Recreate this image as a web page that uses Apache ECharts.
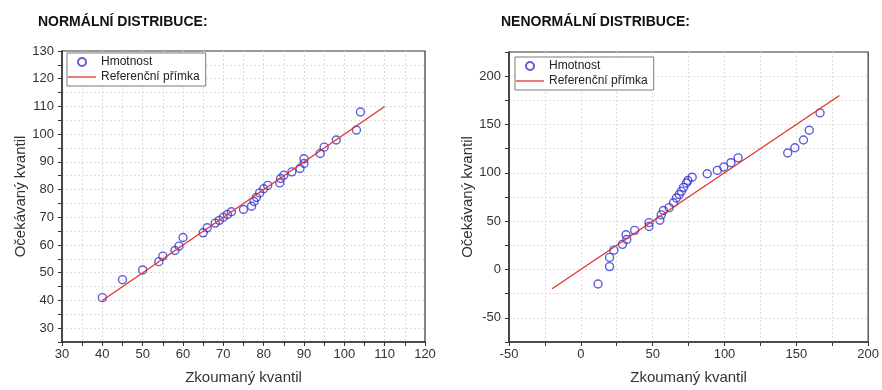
<!DOCTYPE html>
<html>
<head>
<meta charset="utf-8">
<script src="https://cdn.jsdelivr.net/npm/echarts@6/dist/echarts.min.js"></script>
<style>
  html, body { margin: 0; padding: 0; background: #fff; }
  #chart { width: 882px; height: 390px; }
</style>
</head>
<body>
<div id="chart"></div>
<script>
// normální distribuce
const normX = [40, 45, 50, 54, 55, 58, 59, 60, 65, 66, 68, 69, 70, 71, 72, 75, 77, 77.6, 78.2, 79, 80, 81, 84, 84.2, 85, 87, 89, 90, 90, 94, 95, 98, 103, 104];
const normY = [41, 47.5, 51, 54, 56, 58, 59.6, 62.7, 64.4, 66.2, 67.9, 68.9, 70, 71, 72, 72.8, 74, 75.7, 77.2, 78.8, 80.3, 81.5, 82.4, 84, 85.2, 86.4, 87.6, 89.4, 91.1, 93, 95.3, 97.9, 101.5, 108];
const normRefX = [40, 110];
const normRefY = [40, 110];

// nenormální distribuce
const nonX = [12, 20, 20, 23, 29, 32, 31.5, 37.5, 47.5, 47.5, 55, 56, 57.5, 61.5, 64.5, 66.5, 68.5, 70, 71.5, 73.5, 74.5, 77.5, 88, 95, 99.5, 104.5, 109.5, 144, 149, 155, 159, 166.5];
const nonY = [-15, 3, 12.5, 20, 26, 31, 36, 40.5, 44.5, 48.5, 51, 56.5, 61, 64, 69, 74, 77.5, 81, 85, 89.5, 92, 95.5, 99, 102.5, 106, 110.5, 115.5, 120.5, 126, 134, 144, 162];
const nonRefX = [-20, 180];
const nonRefY = [-20, 180];

const pairs = (xs, ys) => xs.map((x, i) => [x, ys[i]]);

const FONT = 'Liberation Sans';
const BLUE = '#3535cf';
const RED = '#e0342c';

const every = (step) => (v) => (Math.round(v) % step === 0 ? String(v) : '');

function valueAxis(gridIndex, min, max, interval, labelStep, name, isY) {
  return {
    type: 'value',
    gridIndex,
    min, max, interval,
    name,
    nameLocation: 'middle',
    nameGap: isY ? 34 : 28,
    nameTextStyle: { fontFamily: FONT, fontSize: 15, color: '#333' },
    axisLine: { show: true, onZero: false, lineStyle: { color: '#333', width: 1.5 } },
    axisTick: { show: true, length: 4, lineStyle: { color: '#333', width: 1 } },
    axisLabel: {
      formatter: every(labelStep),
      fontFamily: FONT, fontSize: 13, color: '#333',
      margin: isY ? 8 : 6
    },
    splitLine: {
      show: true, showMinLine: false, showMaxLine: false,
      lineStyle: { color: '#dcdcdc', type: [2, 2], width: 1 }
    }
  };
}

function legend(left, top) {
  return {
    left, top,
    orient: 'vertical',
    itemWidth: 28,
    itemHeight: 8,
    itemGap: 3,
    padding: [3, 6, 3, 1],
    borderColor: '#7a7a7a',
    borderWidth: 1,
    backgroundColor: '#fff',
    textStyle: { fontFamily: FONT, fontSize: 12, color: '#222' },
    data: [
      'Hmotnost',
      { name: 'Referenční přímka', icon: 'path://M0,0 L28,0 L28,1.3 L0,1.3 Z' }
    ]
  };
}

const chart = echarts.init(document.getElementById('chart'), null, { renderer: 'canvas' });

chart.setOption({
  animation: false,
  backgroundColor: '#fff',
  title: [
    { text: 'NORMÁLNÍ DISTRIBUCE:', left: 33, top: 10,
      textStyle: { fontFamily: FONT, fontSize: 14, fontWeight: 'bold', color: '#111' } },
    { text: 'NENORMÁLNÍ DISTRIBUCE:', left: 496, top: 10,
      textStyle: { fontFamily: FONT, fontSize: 14, fontWeight: 'bold', color: '#111' } }
  ],
  legend: [legend(67, 53), legend(515, 57)],
  grid: [
    { left: 62, right: 457, top: 51, height: 291, show: true, borderColor: '#333', borderWidth: 1.2 },
    { left: 509, right: 11, top: 52, height: 291, show: true, borderColor: '#333', borderWidth: 1.2 }
  ],
  xAxis: [
    valueAxis(0, 30, 120, 5, 10, 'Zkoumaný kvantil', false),
    valueAxis(1, -50, 200, 25, 50, 'Zkoumaný kvantil', false)
  ],
  yAxis: [
    valueAxis(0, 25, 130, 5, 10, 'Očekávaný kvantil', true),
    valueAxis(1, -75, 225, 25, 50, 'Očekávaný kvantil', true)
  ],
  series: [
    {
      name: 'Referenční přímka', type: 'line', xAxisIndex: 0, yAxisIndex: 0,
      data: pairs(normRefX, normRefY), symbol: 'none', silent: true,
      lineStyle: { color: RED, width: 1.3 }, itemStyle: { color: RED }
    },
    {
      name: 'Hmotnost', type: 'scatter', xAxisIndex: 0, yAxisIndex: 0,
      data: pairs(normX, normY), symbol: 'circle', symbolSize: 8,
      itemStyle: { color: 'rgba(0,0,0,0)', borderColor: BLUE, borderWidth: 1.4 }
    },
    {
      name: 'Referenční přímka', type: 'line', xAxisIndex: 1, yAxisIndex: 1,
      data: pairs(nonRefX, nonRefY), symbol: 'none', silent: true,
      lineStyle: { color: RED, width: 1.3 }, itemStyle: { color: RED }
    },
    {
      name: 'Hmotnost', type: 'scatter', xAxisIndex: 1, yAxisIndex: 1,
      data: pairs(nonX, nonY), symbol: 'circle', symbolSize: 8,
      itemStyle: { color: 'rgba(0,0,0,0)', borderColor: BLUE, borderWidth: 1.4 }
    }
  ]
});
</script>
</body>
</html>
